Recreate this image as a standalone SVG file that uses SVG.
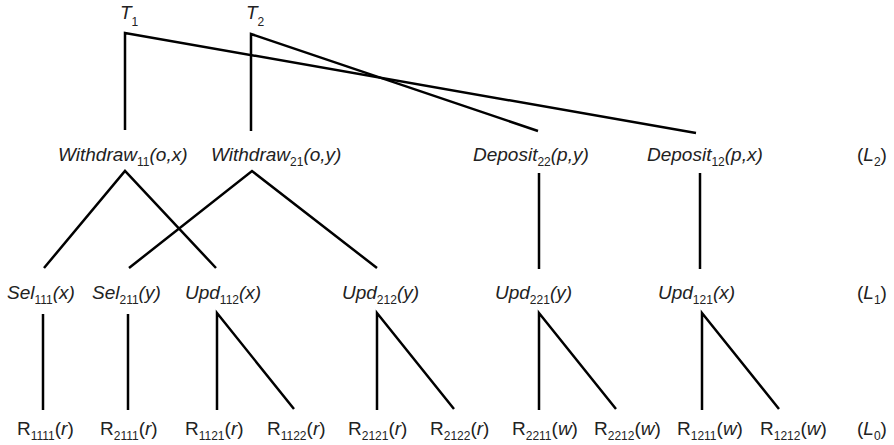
<svg xmlns="http://www.w3.org/2000/svg" width="894" height="445" viewBox="0 0 894 445">
<style>
text{font-family:"Liberation Sans",Arial,sans-serif;font-size:19px;fill:#222}
.i{font-style:italic}
.s{font-size:12px;font-style:normal}
.c{fill:none;stroke:#000;stroke-width:2.5;stroke-linejoin:miter}
</style>
<rect width="894" height="445" fill="#fff"/>
<g id="connectors" class="c">
<polyline points="125,130 125,33 696,133"/>
<polyline points="251,131 251,34 538,131"/>
<polyline points="44,268 125,171 216,268"/>
<polyline points="129,268 252,171 377,268"/>
<line x1="539" y1="173" x2="539" y2="269"/>
<line x1="700" y1="173" x2="700" y2="269"/>
<line x1="43" y1="314" x2="43" y2="410"/>
<line x1="128" y1="314" x2="128" y2="410"/>
<polyline points="217,410 217,313 294,409"/>
<polyline points="377,410 377,313 454,409"/>
<polyline points="539,410 539,313 616,409"/>
<polyline points="702,410 702,313 779,409"/>
</g>
<g id="T1"><text x="120" y="19" class="i">T<tspan class="s" dy="7">1</tspan></text></g>
<g id="T2"><text x="246" y="19" class="i">T<tspan class="s" dy="7">2</tspan></text></g>
<g id="W11"><text x="58" y="161" class="i">Withdraw<tspan class="s" dy="5">11</tspan><tspan dy="-5">(o,x)</tspan></text></g>
<g id="W21"><text x="211" y="161" class="i">Withdraw<tspan class="s" dy="5">21</tspan><tspan dy="-5">(o,y)</tspan></text></g>
<g id="D22"><text x="473" y="161" class="i">Deposit<tspan class="s" dy="5">22</tspan><tspan dy="-5">(p,y)</tspan></text></g>
<g id="D12"><text x="647" y="161" class="i">Deposit<tspan class="s" dy="5">12</tspan><tspan dy="-5">(p,x)</tspan></text></g>
<g id="L2"><text x="857" y="161">(<tspan class="i">L</tspan><tspan class="s" dy="5">2</tspan><tspan dy="-5">)</tspan></text></g>
<g id="Sel111"><text x="7" y="299" class="i">Sel<tspan class="s" dy="5">111</tspan><tspan dy="-5">(x)</tspan></text></g>
<g id="Sel211"><text x="92" y="299" class="i">Sel<tspan class="s" dy="5">211</tspan><tspan dy="-5">(y)</tspan></text></g>
<g id="Upd112"><text x="185" y="299" class="i">Upd<tspan class="s" dy="5">112</tspan><tspan dy="-5">(x)</tspan></text></g>
<g id="Upd212"><text x="342" y="299" class="i">Upd<tspan class="s" dy="5">212</tspan><tspan dy="-5">(y)</tspan></text></g>
<g id="Upd221"><text x="495" y="299" class="i">Upd<tspan class="s" dy="5">221</tspan><tspan dy="-5">(y)</tspan></text></g>
<g id="Upd121"><text x="658" y="299" class="i">Upd<tspan class="s" dy="5">121</tspan><tspan dy="-5">(x)</tspan></text></g>
<g id="L1"><text x="857" y="299">(<tspan class="i">L</tspan><tspan class="s" dy="5">1</tspan><tspan dy="-5">)</tspan></text></g>
<g id="R1111"><text x="17" y="435">R<tspan class="s" dy="5">1111</tspan><tspan dy="-5">(</tspan><tspan class="i">r</tspan>)</text></g>
<g id="R2111"><text x="100" y="435">R<tspan class="s" dy="5">2111</tspan><tspan dy="-5">(</tspan><tspan class="i">r</tspan>)</text></g>
<g id="R1121"><text x="185" y="435">R<tspan class="s" dy="5">1121</tspan><tspan dy="-5">(</tspan><tspan class="i">r</tspan>)</text></g>
<g id="R1122"><text x="267" y="435">R<tspan class="s" dy="5">1122</tspan><tspan dy="-5">(</tspan><tspan class="i">r</tspan>)</text></g>
<g id="R2121"><text x="348" y="435">R<tspan class="s" dy="5">2121</tspan><tspan dy="-5">(</tspan><tspan class="i">r</tspan>)</text></g>
<g id="R2122"><text x="430" y="435">R<tspan class="s" dy="5">2122</tspan><tspan dy="-5">(</tspan><tspan class="i">r</tspan>)</text></g>
<g id="R2211"><text x="512" y="435">R<tspan class="s" dy="5">2211</tspan><tspan dy="-5">(</tspan><tspan class="i">w</tspan>)</text></g>
<g id="R2212"><text x="594" y="435">R<tspan class="s" dy="5">2212</tspan><tspan dy="-5">(</tspan><tspan class="i">w</tspan>)</text></g>
<g id="R1211"><text x="677" y="435">R<tspan class="s" dy="5">1211</tspan><tspan dy="-5">(</tspan><tspan class="i">w</tspan>)</text></g>
<g id="R1212"><text x="760" y="435">R<tspan class="s" dy="5">1212</tspan><tspan dy="-5">(</tspan><tspan class="i">w</tspan>)</text></g>
<g id="L0"><text x="857" y="435">(<tspan class="i">L</tspan><tspan class="s" dy="5">0</tspan><tspan dy="-5">)</tspan></text></g>
</svg>
